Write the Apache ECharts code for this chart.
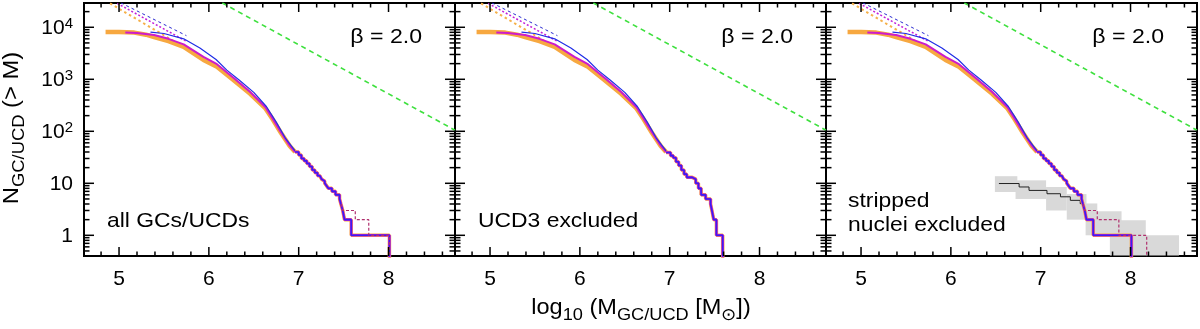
<!DOCTYPE html>
<html>
<head>
<meta charset="utf-8">
<script src="https://cdn.jsdelivr.net/npm/echarts@6/dist/echarts.min.js"></script>
<style>
html, body { margin: 0; padding: 0; background: #fff; }
#chart { width: 1200px; height: 329px; }
</style>
</head>
<body>
<div id="chart"></div>
<script>
// smooth upper part of the cumulative counts (same in all panels)
var orangeX = [4.85, 5.00, 5.17, 5.30, 5.39, 5.55, 5.72, 5.94, 6.09, 6.28, 6.46, 6.63, 6.71, 6.80, 6.90, 6.96];
var orangeN = [8100, 8100, 7900, 7200, 6500, 5400, 4200, 2350, 1750, 950, 525, 275, 170, 95, 52, 40];
var magentaX = [5.07, 5.20, 5.39, 5.55, 5.72, 5.94, 6.09, 6.28, 6.46, 6.63, 6.71, 6.80, 6.90, 6.96];
var magentaN = [7950, 7800, 7100, 6000, 4700, 2700, 1950, 1050, 570, 290, 175, 97, 53, 40];
var blueX = [5.35, 5.50, 5.72, 5.90, 6.08, 6.20, 6.34, 6.50, 6.64, 6.75, 6.85, 6.96];
var blueN = [8100, 7600, 6000, 4000, 2400, 1500, 960, 560, 300, 150, 75, 42];

// power-law continuations at the low-mass end
var orangeDashX = [4.90, 5.72];
var orangeDashN = [28800, 4170];
var magentaDotX = [4.98, 5.76];
var magentaDotN = [28800, 5250];
var blueDashX = [5.02, 5.75];
var blueDashN = [29500, 6900];

// beta = 2 reference line
var greenX = [6.15, 8.74];
var greenN = [29300, 105];

// stepped high-mass tails
var tailX = [6.96, 7.00, 7.03, 7.06, 7.09, 7.12, 7.15, 7.18, 7.21, 7.235, 7.255, 7.27, 7.29, 7.31, 7.33, 7.37, 7.41, 7.455, 7.47, 7.49, 7.51, 7.585, 8.01];
var tailN = [40, 35, 30, 27, 24, 21, 18, 16, 14, 13, 12, 11, 10, 9, 8, 7, 6, 5, 4, 3, 2, 1, 0.01];
var tail2X = [6.96, 7.01, 7.04, 7.07, 7.10, 7.13, 7.16, 7.19, 7.25, 7.29, 7.32, 7.35, 7.40, 7.455, 7.47, 7.49, 7.52, 7.59];
var tail2N = [39, 34, 31, 26, 22, 18, 15, 13, 12, 10, 8, 6, 5, 4, 3, 2, 1, 0.01];
var dashTail1X = [7.47, 7.49, 7.63, 7.78, 8.01];
var dashTail1N = [4, 3, 2, 1, 0.01];
var dashTail3X = [7.47, 7.49, 7.63, 7.87, 8.18];
var dashTail3N = [4, 3, 2, 1, 0.01];

// stripped nuclei (panel 3) with its uncertainty boxes
var nucleiX = [6.535, 6.76, 6.87, 7.07, 7.22, 7.33, 7.44, 7.47];
var nucleiN = [9.9, 8.5, 7.3, 6.3, 5.5, 4.7, 4.06, 4.06];
var boxX0 = [6.49, 6.72, 7.06, 7.29, 7.50, 7.63, 7.61, 7.77];
var boxX1 = [6.74, 7.06, 7.29, 7.51, 7.63, 7.90, 8.17, 8.54];
var boxLo = [6.8, 5.0, 3.0, 2.0, 1.0, 1.0, 1.0, 0.41];
var boxHi = [13.7, 11.4, 8.5, 6.2, 4.1, 2.9, 1.94, 1.0];

// axis ticks
var xMajorTicks = [5, 6, 7, 8];
var xMinorTicks = [4.8, 5.2, 5.4, 5.6, 5.8, 6.2, 6.4, 6.6, 6.8, 7.2, 7.4, 7.6, 7.8, 8.2, 8.4, 8.6];
var yMajorTicks = [1, 10, 100, 1000, 10000];
var yMinorSteps = [2, 3, 4, 5, 6, 7, 8, 9];

var panelLabels = ['all GCs/UCDs', 'UCD3 excluded', 'stripped\nnuclei excluded'];

var X_MIN = 4.61, X_MAX = 8.74, Y_MIN = 0.4, Y_MAX = 29300;
var FONT = '"Liberation Sans", Arial, Helvetica, sans-serif';
var gridLefts = [84, 455, 826];

var chart = echarts.init(document.getElementById('chart'));

function pairs(xs, ys) {
    return xs.map(function (x, i) { return [x, ys[i]]; });
}

function lineSeries(p, xs, ys, color, width, type, step) {
    return {
        type: 'line', xAxisIndex: p, yAxisIndex: p,
        data: pairs(xs, ys),
        symbol: 'none', showSymbol: false, silent: true,
        step: step || false,
        lineStyle: { color: color, width: width, type: type || 'solid', cap: 'butt' },
        z: 2
    };
}

// tick list: [x, y, kind]  kind 0/1 = x major/minor, 2/3 = y major/minor
var tickData = [];
xMajorTicks.forEach(function (v) { tickData.push([v, 1, 0]); });
xMinorTicks.forEach(function (v) { tickData.push([v, 1, 1]); });
yMajorTicks.forEach(function (v) { tickData.push([6, v, 2]); });
[0.1, 1, 10, 100, 1000, 10000].forEach(function (d) {
    yMinorSteps.forEach(function (s) {
        var v = d * s;
        if (v > Y_MIN && v < Y_MAX) tickData.push([6, v, 3]);
    });
});

function renderTicks(params, api) {
    var cs = params.coordSys;
    var kind = api.value(2);
    var a, b, len;
    if (kind < 2) {
        len = kind === 0 ? 9 : 4.5;
        var px = api.coord([api.value(0), 1])[0];
        a = { x1: px, y1: cs.y + cs.height, x2: px, y2: cs.y + cs.height - len };
        b = { x1: px, y1: cs.y, x2: px, y2: cs.y + len };
    } else {
        len = kind === 2 ? 10 : 5.5;
        var py = api.coord([6, api.value(1)])[1];
        a = { x1: cs.x, y1: py, x2: cs.x + len, y2: py };
        b = { x1: cs.x + cs.width, y1: py, x2: cs.x + cs.width - len, y2: py };
    }
    var st = { stroke: '#000', lineWidth: 1.5 };
    return { type: 'group', children: [
        { type: 'line', shape: a, style: st },
        { type: 'line', shape: b, style: st }
    ] };
}

function renderBox(params, api) {
    var p0 = api.coord([api.value(0), api.value(3)]);
    var p1 = api.coord([api.value(1), api.value(2)]);
    return { type: 'rect', shape: { x: p0[0], y: p0[1], width: p1[0] - p0[0], height: p1[1] - p0[1] },
        style: { fill: '#d9d9d9' } };
}

function yLabel(v) {
    var e = Math.round(Math.log10(v));
    if (Math.abs(Math.log10(v) - e) > 1e-6) return '';
    if (e === 0) return '{b|1}';
    if (e === 1) return '{b|10}';
    return '{b|10}{sup|' + e + '}';
}

var grids = [], xAxes = [], yAxes = [], series = [];
for (var p = 0; p < 3; p++) {
    grids.push({ left: gridLefts[p], top: 3, width: 371, height: 253, show: true,
        borderColor: '#000', borderWidth: 2, backgroundColor: 'transparent', containLabel: false });
    xAxes.push({ type: 'value', gridIndex: p, min: X_MIN, max: X_MAX,
        axisLine: { show: false }, axisTick: { show: false }, splitLine: { show: false },
        axisLabel: { show: true, showMinLabel: false, showMaxLabel: false, margin: 13,
            fontSize: 21, fontFamily: FONT, color: '#000',
            formatter: function (v) { return Math.abs(v - Math.round(v)) < 1e-6 ? String(Math.round(v)) : ''; } } });
    yAxes.push({ type: 'log', logBase: 10, gridIndex: p, min: Y_MIN, max: Y_MAX,
        axisLine: { show: false }, axisTick: { show: false }, splitLine: { show: false },
        axisLabel: { show: p === 0, showMinLabel: false, showMaxLabel: false, margin: 11,
            color: '#000', formatter: yLabel,
            rich: {
                b: { fontSize: 21, fontFamily: FONT, color: '#000', lineHeight: 22, padding: [2, 0, 0, 0], verticalAlign: 'bottom' },
                sup: { fontSize: 15, fontFamily: FONT, color: '#000', lineHeight: 15, verticalAlign: 'top' }
            } } });

    if (p === 2) {
        series.push({ type: 'custom', xAxisIndex: p, yAxisIndex: p, silent: true, z: 1,
            renderItem: renderBox, encode: { x: [0, 1], y: [2, 3] },
            data: boxX0.map(function (x, i) { return [x, boxX1[i], boxLo[i], boxHi[i]]; }) });
        series.push(lineSeries(p, nucleiX, nucleiN, '#222', 1, 'solid', 'end'));
    }
    series.push(lineSeries(p, greenX, greenN, '#3ee03e', 1.6, [5, 4]));
    series.push(lineSeries(p, orangeDashX, orangeDashN, '#f5b04a', 2, [2.5, 3]));
    series.push(lineSeries(p, magentaDotX, magentaDotN, '#c21fd8', 1.5, [2, 2]));
    series.push(lineSeries(p, blueDashX, blueDashN, '#2a2ad0', 1, [3, 3]));
    series.push(lineSeries(p, orangeX, orangeN, '#f7a840', 4.5));
    series.push(lineSeries(p, magentaX, magentaN, '#cc1ccc', 2));
    series.push(lineSeries(p, blueX, blueN, '#1f2ee6', 1.2));
    var tx = p === 1 ? tail2X : tailX, tn = p === 1 ? tail2N : tailN;
    series.push(lineSeries(p, tx, tn, '#f7a840', 3.5, 'solid', 'end'));
    series.push(lineSeries(p, tx, tn, '#cc1ccc', 2.6, 'solid', 'end'));
    series.push(lineSeries(p, tx, tn, '#3a1ef0', 1.6, 'solid', 'end'));
    if (p === 0) series.push(lineSeries(p, dashTail1X, dashTail1N, '#b0306e', 1.2, [3, 2], 'end'));
    if (p === 2) series.push(lineSeries(p, dashTail3X, dashTail3N, '#b0306e', 1.2, [3, 2], 'end'));
    series.push({ type: 'custom', xAxisIndex: p, yAxisIndex: p, silent: true, z: 5,
        renderItem: renderTicks, encode: { x: 0, y: 1 }, data: tickData });
}

var txt = { fontSize: 21, fontFamily: FONT, fill: '#000' };
function label(x, y, s, align, sx) {
    return { type: 'text', x: x, y: y, scaleX: sx, silent: true,
        style: Object.assign({ text: s, align: align, verticalAlign: 'middle' }, txt) };
}
var graphic = [];
[422, 793, 1164].forEach(function (x) { graphic.push(label(x, 37, 'β = 2.0', 'right', 1.1)); });
graphic.push(label(107, 221, panelLabels[0], 'left', 1.09));
graphic.push(label(478, 221, panelLabels[1], 'left', 1.09));
var nl = panelLabels[2].split('\n');
graphic.push(label(848, 201, nl[0], 'left', 1.09));
graphic.push(label(848, 225.5, nl[1], 'left', 1.09));

var titleRich = {
    n: { fontSize: 22, fontFamily: FONT, fill: '#000', lineHeight: 25, padding: [0, 0, 5, 0], verticalAlign: 'bottom' },
    sub: { fontSize: 17, fontFamily: FONT, fill: '#000', lineHeight: 17, verticalAlign: 'bottom' }
};
graphic.push({ type: 'text', x: 641, y: 311, scaleX: 1.07, silent: true,
    style: { text: '{n|log}{sub|10}{n| (M}{sub|GC/UCD}{n| [M}{sub|⊙}{n|])}', align: 'center', verticalAlign: 'middle', rich: titleRich } });
graphic.push({ type: 'text', x: 15, y: 128, rotation: Math.PI / 2, scaleX: 1.08, silent: true,
    style: { text: '{n|N}{sub|GC/UCD}{n| (> M)}', align: 'center', verticalAlign: 'middle', rich: titleRich } });

chart.setOption({
    animation: false,
    textStyle: { fontFamily: FONT },
    grid: grids,
    xAxis: xAxes,
    yAxis: yAxes,
    series: series,
    graphic: graphic
});
</script>
</body>
</html>
